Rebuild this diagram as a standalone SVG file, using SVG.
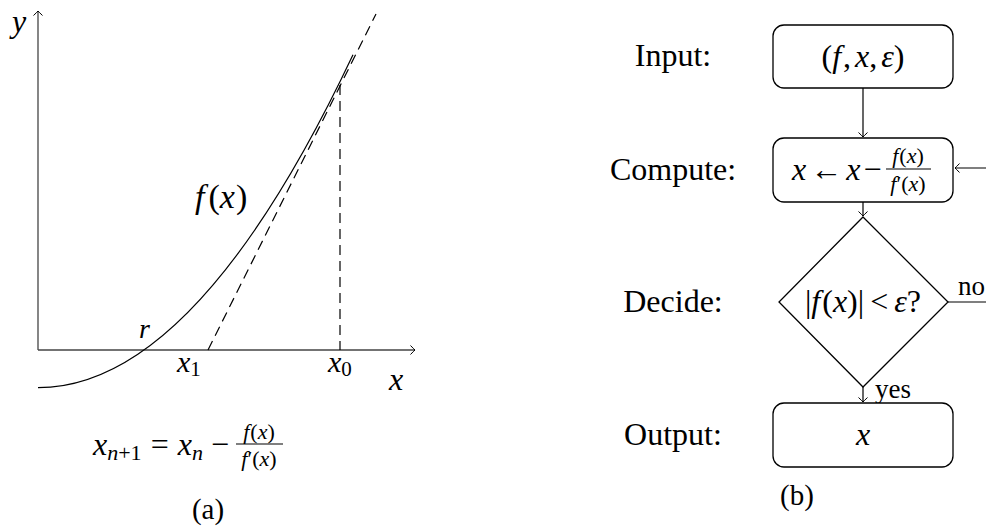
<svg xmlns="http://www.w3.org/2000/svg" width="986" height="527" viewBox="0 0 986 527" font-family="'Liberation Serif', 'DejaVu Serif', 'Times New Roman', serif">
<defs>
<marker id="arr" viewBox="-6 -6 8 12" markerWidth="8" markerHeight="12" refX="0" refY="0" orient="auto" markerUnits="userSpaceOnUse">
<path d="M-4.5,-4.5 Q-1.2,-1 0,0 Q-1.2,1 -4.5,4.5" fill="none" stroke="#000" stroke-width="1"/>
</marker>
</defs>
<style>
text{font-family:'Liberation Serif','DejaVu Serif',serif;fill:#000}
.i{font-style:italic}
.ln{stroke:#000;stroke-width:1.2;fill:none}
.ax{stroke:#444;stroke-width:1.3;fill:none}
.dash{stroke:#000;stroke-width:1.2;fill:none;stroke-dasharray:10 6}
.box{fill:#fff;stroke:#000;stroke-width:1.3}
.lbl{font-size:32px;text-anchor:middle}
.mth{font-size:32px}
.sm{font-size:22px}
</style>

<g id="plot">
  <line class="ax" x1="38" y1="350" x2="38" y2="11" marker-end="url(#arr)"/>
  <line class="ax" x1="38" y1="350" x2="415" y2="350" marker-end="url(#arr)"/>
  <path class="ln" d="M38,387.7 Q195.5,387.7 353,54.8"/>
  <line class="dash" x1="208" y1="350" x2="376" y2="14"/>
  <line class="dash" x1="340" y1="85" x2="340" y2="350"/>
  <text class="mth i" x="12" y="32">y</text>
  <text x="195" y="208" font-size="34"><tspan class="i">f</tspan><tspan dx="4">(</tspan><tspan class="i">x</tspan><tspan dx="1">)</tspan></text>
  <text class="i" x="139" y="338" font-size="28">r</text>
  <text x="177" y="372" font-size="30"><tspan class="i">x</tspan><tspan font-size="21" dy="4">1</tspan></text>
  <text x="328" y="372" font-size="30"><tspan class="i">x</tspan><tspan font-size="21" dy="4">0</tspan></text>
  <text class="mth i" x="389" y="390">x</text>
  <g id="formula">
    <text x="93" y="455" font-size="32"><tspan class="i">x</tspan><tspan class="i" font-size="22" dy="5">n</tspan><tspan font-size="22">+1</tspan><tspan dy="-5" dx="9">=</tspan><tspan class="i" dx="9">x</tspan><tspan class="i" font-size="22" dy="5">n</tspan><tspan dy="-5" dx="8">−</tspan></text>
    <text class="sm" x="259" y="439" text-anchor="middle"><tspan class="i">f</tspan><tspan dx="1">(</tspan><tspan class="i">x</tspan>)</text>
    <line class="ln" x1="236" y1="444" x2="283" y2="444" stroke-width="1"/>
    <text class="sm" x="259" y="466" text-anchor="middle"><tspan class="i">f</tspan>′(<tspan class="i">x</tspan>)</text>
  </g>
  <text x="208" y="519" font-size="29" text-anchor="middle">(a)</text>
</g>

<g id="connectors">
  <line class="ln" x1="863" y1="88" x2="863" y2="137" marker-end="url(#arr)"/>
  <line class="ln" x1="863" y1="202" x2="863" y2="216" marker-end="url(#arr)"/>
  <line class="ln" x1="863" y1="387" x2="863" y2="402" marker-end="url(#arr)"/>
  <path class="ln" d="M948,302 H992 V168 H955" marker-end="url(#arr)"/>
  <text x="958" y="295" font-size="27">no</text>
  <text x="875" y="398" font-size="27">yes</text>
</g>

<g id="input">
  <rect class="box" x="773" y="25" width="180" height="63" rx="11"/>
  <text class="lbl" x="673" y="66">Input:</text>
  <text class="mth" x="863" y="67" text-anchor="middle">(<tspan class="i">f</tspan><tspan dx="2">,</tspan><tspan class="i" dx="4">x</tspan>,<tspan class="i" dx="4">ε</tspan>)</text>
</g>

<g id="compute">
  <rect class="box" x="773" y="138" width="180" height="64" rx="11"/>
  <text class="lbl" x="673" y="180">Compute:</text>
  <text class="mth" x="792" y="180"><tspan class="i">x</tspan><tspan dx="4">←</tspan><tspan class="i" dx="4">x</tspan><tspan dx="3">−</tspan></text>
  <text class="sm" x="908" y="163" text-anchor="middle"><tspan class="i">f</tspan><tspan dx="1">(</tspan><tspan class="i">x</tspan>)</text>
  <line class="ln" x1="886" y1="169" x2="931" y2="169" stroke-width="1"/>
  <text class="sm" x="908" y="191" text-anchor="middle"><tspan class="i">f</tspan>′(<tspan class="i">x</tspan>)</text>
</g>

<g id="decide">
  <polygon class="box" points="863,217 948,302 863,387 779,302"/>
  <text class="lbl" x="673" y="312">Decide:</text>
  <text class="mth" x="863" y="312" text-anchor="middle">|<tspan class="i">f</tspan><tspan dx="2">(</tspan><tspan class="i">x</tspan>)|<tspan dx="6">&lt;</tspan><tspan class="i" dx="6">ε</tspan>?</text>
</g>

<g id="output">
  <rect class="box" x="773" y="403" width="180" height="64" rx="11"/>
  <text class="lbl" x="673" y="445">Output:</text>
  <text class="mth i" x="863" y="445" text-anchor="middle">x</text>
</g>

<text x="797" y="505" font-size="29" text-anchor="middle">(b)</text>
</svg>
